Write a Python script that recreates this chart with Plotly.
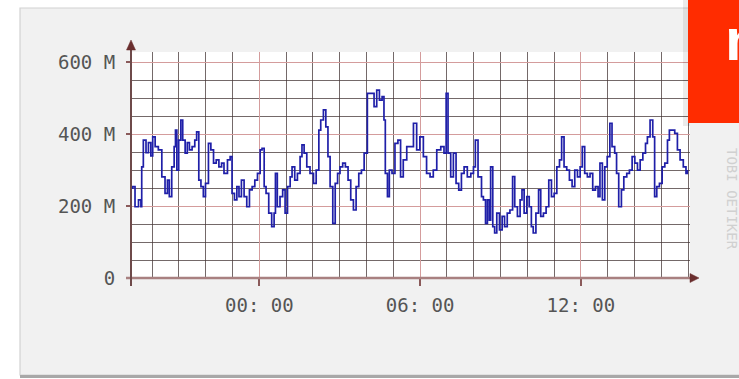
import plotly.graph_objects as go

# ---- data (hours relative to 00:00, traffic in millions) ----
hours = [
    -4.79, -4.725, -4.64, -4.51, -4.42, -4.39, -4.33, -4.23, -4.14, -4.05, -3.98, -3.89, -3.77,
    -3.64, -3.52, -3.43, -3.36, -3.27, -3.18, -3.13, -3.08, -3.01, -2.93, -2.86, -2.77,
    -2.69, -2.61, -2.51, -2.41, -2.34, -2.26, -2.18, -2.09, -2.01, -1.90, -1.81, -1.71,
    -1.61, -1.51, -1.41, -1.32, -1.19, -1.09, -1.02, -0.93, -0.84, -0.76, -0.67, -0.57,
    -0.47, -0.37, -0.27, -0.17, -0.07, 0.03, 0.10, 0.18, 0.25, 0.35, 0.46, 0.55, 0.60,
    0.67, 0.77, 0.87, 0.96, 1.05, 1.15, 1.22, 1.32, 1.42, 1.52, 1.59, 1.67, 1.77, 1.89,
    2.02, 2.12, 2.22, 2.29, 2.39, 2.48, 2.56, 2.64, 2.74, 2.83, 2.92, 3.01, 3.11, 3.21,
    3.31, 3.41, 3.51, 3.61, 3.71, 3.81, 3.91, 3.98, 4.03, 4.19, 4.28, 4.38, 4.48, 4.58,
    4.65, 4.70, 4.78, 4.85, 4.95, 5.06, 5.17, 5.27, 5.37, 5.50, 5.62, 5.75, 5.87, 5.99,
    6.12, 6.24, 6.37, 6.49, 6.62, 6.77, 6.89, 6.97, 7.04, 7.14, 7.24, 7.34, 7.44, 7.54,
    7.64, 7.76, 7.89, 7.99, 8.06, 8.16, 8.29, 8.36, 8.44, 8.51, 8.58, 8.63, 8.71, 8.78,
    8.86, 8.96, 9.06, 9.15, 9.25, 9.35, 9.45, 9.53, 9.63, 9.73, 9.80, 9.88, 9.98, 10.07,
    10.15, 10.22, 10.32, 10.42, 10.50, 10.60, 10.70, 10.80, 10.90, 11.00, 11.10, 11.20,
    11.28, 11.37, 11.47, 11.57, 11.67, 11.77, 11.87, 11.97, 12.05, 12.14, 12.24, 12.34,
    12.44, 12.54, 12.64, 12.71, 12.80, 12.89, 12.98, 13.08, 13.16, 13.26, 13.33, 13.41,
    13.51, 13.60, 13.71, 13.81, 13.91, 14.01, 14.11, 14.21, 14.31, 14.41, 14.48, 14.58,
    14.68, 14.75, 14.83, 14.93, 15.03, 15.13, 15.23, 15.30, 15.40, 15.50, 15.60, 15.70,
    15.82, 15.92, 15.97,
]
traffic = [
    250, 254, 198, 217, 198, 309, 383, 348, 376, 339, 392, 365, 356,
    281, 235, 272, 226, 309, 365, 411, 300, 383, 439, 383, 347,
    376, 356, 365, 383, 406, 272, 254, 226, 263, 374, 356, 319,
    328, 309, 319, 291, 328, 337, 235, 217, 254, 226, 272, 226,
    198, 245, 254, 272, 291, 356, 360, 254, 235, 180, 143, 180, 291,
    198, 226, 245, 180, 254, 281, 309, 272, 291, 337, 370, 347, 309, 291,
    263, 300, 411, 439, 467, 420, 337, 254, 152, 263, 291, 309, 319, 309,
    272, 217, 189, 254, 291, 300, 347, 347, 513, 513, 476, 522, 494, 504,
    439, 291, 226, 300, 291, 374, 383, 281, 328, 365, 365, 430, 356, 392,
    337, 291, 281, 300, 356, 365, 347, 513, 347, 281, 347, 263, 244, 291,
    309, 281, 291, 309, 383, 281, 226, 217, 152, 217, 161, 309, 143, 125,
    180, 134, 171, 143, 180, 189, 282, 198, 171, 217, 245, 180, 226, 198,
    143, 125, 180, 245, 171, 180, 198, 272, 226, 235, 309, 328,
    392, 309, 300, 272, 254, 300, 281, 309, 365, 291, 281, 291,
    244, 254, 226, 319, 217, 309, 337, 430, 365, 347, 291, 198,
    245, 281, 291, 300, 337, 319, 300, 328, 347, 374, 392, 439,
    392, 226, 254, 263, 309, 319, 383, 411, 411, 402, 356, 328,
    309, 291, 300,
]
x_tick_vals = [0, 6, 12]
x_tick_text = ["00: 00", "06: 00", "12: 00"]
y_tick_vals = [0, 200, 400, 600]
y_tick_text = ["0", "200 M", "400 M", "600 M"]

# ---- geometry (pixels) ----
W, H = 739, 379
PL, PR, PT, PB = 131, 690, 52, 278


def fx(px):
    return (px - PL) / (PR - PL)


def fy(py):
    return (PB - py) / (PB - PT)


MAJOR = "#d49c9c"
MINOR = "rgba(70,55,55,0.75)"
AXIS = "#8a5a5a"
FONT = dict(family="DejaVu Sans Mono", size=19, color="#555555")

fig = go.Figure(
    go.Scatter(
        x=hours, y=traffic, mode="lines",
        line=dict(color="#1f1fa8", width=1.7, shape="hv"),
        hoverinfo="skip", showlegend=False,
    )
)

fig.update_layout(
    width=W, height=H, autosize=False,
    margin=dict(l=PL, r=W - PR, t=PT, b=H - PB, pad=0),
    paper_bgcolor="#ffffff", plot_bgcolor="rgba(0,0,0,0)",
    showlegend=False,
)

fig.update_xaxes(
    range=[-4.79, 16.07], tickmode="linear", tick0=0, dtick=6,
    labelalias={str(v): t for v, t in zip(x_tick_vals, x_tick_text)},
    showgrid=True, gridcolor=MAJOR, gridwidth=1.2,
    minor=dict(tickmode="linear", tick0=0, dtick=1, showgrid=True,
               gridcolor=MINOR, gridwidth=1.3, ticks=""),
    ticks="outside", ticklen=7, tickcolor=AXIS, tickwidth=1.5,
    zeroline=False, showline=False, tickfont=FONT, ticklabelstandoff=3,
)
fig.update_yaxes(
    range=[0, 628], tickmode="linear", tick0=0, dtick=200,
    labelalias={str(v): t for v, t in zip(y_tick_vals, y_tick_text)},
    showgrid=True, gridcolor=MAJOR, gridwidth=1.2,
    minor=dict(tickmode="linear", tick0=0, dtick=50, showgrid=True,
               gridcolor=MINOR, gridwidth=1.3, ticks=""),
    ticks="outside", ticklen=4, tickcolor=AXIS, tickwidth=1.5,
    zeroline=False, showline=False, tickfont=FONT, ticklabelstandoff=7,
)

shapes = [
    # gray panel
    dict(type="rect", xref="paper", yref="paper", layer="below",
         x0=fx(20), x1=fx(760), y0=fy(375), y1=fy(8),
         fillcolor="#f1f1f1", line=dict(color="#d2d2d2", width=1.2)),
    # bottom darker edge
    dict(type="line", xref="paper", yref="paper", layer="below",
         x0=fx(20), x1=fx(760), y0=fy(376.5), y1=fy(376.5),
         line=dict(color="#a8a8a8", width=3)),
    # white plot area
    dict(type="rect", xref="paper", yref="paper", layer="below",
         x0=0, x1=1, y0=0, y1=1, fillcolor="#ffffff", line=dict(width=0)),
    # x axis line
    dict(type="line", xref="paper", yref="paper", layer="above",
         x0=fx(126), x1=fx(693), y0=0, y1=0,
         line=dict(color="#a88080", width=2.5)),
    # y axis line
    dict(type="line", xref="paper", yref="paper", layer="above",
         x0=0, x1=0, y0=fy(286), y1=fy(46),
         line=dict(color="#6e4a4a", width=2)),
    # arrow heads
    dict(type="path", xref="paper", yref="paper", layer="above",
         xsizemode="pixel", ysizemode="pixel", xanchor=fx(PR), yanchor=0,
         path="M 0 -4.5 L 9 0 L 0 4.5 Z", fillcolor="#6a2e2e",
         line=dict(color="#6a2e2e", width=0.5)),
    dict(type="path", xref="paper", yref="paper", layer="above",
         xsizemode="pixel", ysizemode="pixel", xanchor=0, yanchor=fy(PT - 2),
         path="M -4.5 0 L 4.5 0 L 0 10 Z", fillcolor="#6a2e2e",
         line=dict(color="#6a2e2e", width=0.5)),
    # shadow of red box
    dict(type="rect", xref="paper", yref="paper", layer="above",
         x0=fx(683), x1=fx(690), y0=fy(126), y1=fy(-2),
         fillcolor="rgba(0,0,0,0.08)", line=dict(width=0)),
    # red box
    dict(type="rect", xref="paper", yref="paper", layer="above",
         x0=fx(688), x1=fx(760), y0=fy(123), y1=fy(-2),
         fillcolor="#ff2c00", line=dict(width=0)),
]
fig.update_layout(shapes=shapes)

fig.add_annotation(
    xref="paper", yref="paper", x=fx(723), y=fy(40),
    xanchor="left", yanchor="middle", showarrow=False,
    text="<b>n</b>", font=dict(family="Liberation Sans", size=60, color="#ffffff"),
)
fig.add_annotation(
    xref="paper", yref="paper", x=fx(732), y=fy(199),
    xanchor="center", yanchor="middle", showarrow=False, textangle=90,
    text="TOBI OETIKER", font=dict(family="DejaVu Sans Mono", size=14, color="#d0d0d0"),
)

fig.write_html(
    "out.html",
    config={"displayModeBar": False},
    post_script="document.body.style.margin='0';document.body.style.padding='0';",
)
